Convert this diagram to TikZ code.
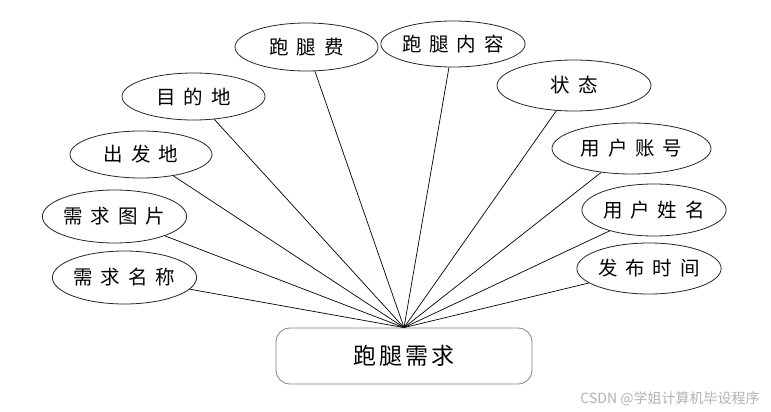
\documentclass[tikz,border=0pt]{standalone}
\usepackage{fontspec}
\setmainfont{Liberation Sans}
\newfontfamily\cjk{Noto Sans CJK SC}
\usetikzlibrary{shapes.geometric}
\newcommand\kg{\hspace{8pt}}
\begin{document}
\begin{tikzpicture}[x=1pt,y=-1pt,
  attr/.style={ellipse,draw=black!85,line width=0.8pt,inner sep=0pt,font=\cjk\fontsize{19.5}{19.5}\selectfont},
  ent/.style={rounded corners=14pt,draw=black!50,line width=0.8pt,minimum width=256pt,minimum height=56pt,inner sep=0pt,font=\cjk\fontsize{23}{23}\selectfont},
  conn/.style={line width=0.7pt,black}]
\useasboundingbox (0,0) rectangle (771,412);
\node[ent] (r) at (404,356) {跑\hspace{3pt}腿\hspace{3pt}需\hspace{3pt}求};
\node[attr,minimum width=143pt,minimum height=48pt] (a1) at (306.5,47) {跑\kg 腿\kg 费};
\node[attr,minimum width=142pt,minimum height=46pt] (a2) at (453,44) {跑\kg 腿\kg 内\kg 容};
\node[attr,minimum width=143pt,minimum height=47pt] (a3) at (193.5,96.5) {目\kg 的\kg 地};
\node[attr,minimum width=154pt,minimum height=51pt] (a4) at (574,85.5) {状\kg 态};
\node[attr,minimum width=142pt,minimum height=47pt] (a5) at (141,154.5) {出\kg 发\kg 地};
\node[attr,minimum width=159pt,minimum height=51pt] (a6) at (631.5,148.5) {用\kg 户\kg 账\kg 号};
\node[attr,minimum width=129pt,minimum height=53pt] (a7) at (114.5,216.5) {需\kg 求\kg 图\kg 片};
\node[attr,minimum width=132pt,minimum height=52pt] (a8) at (654,210) {用\kg 户\kg 姓\kg 名};
\node[attr,minimum width=127pt,minimum height=53pt] (a9) at (124.5,277.5) {需\kg 求\kg 名\kg 称};
\node[attr,minimum width=134pt,minimum height=51pt] (a10) at (649,268.5) {发\kg 布\kg 时\kg 间};
\foreach \i in {1,...,10} {\draw[conn] (a\i) -- (r.north);}
\node[text=black!30,font=\cjk\fontsize{14}{14}\selectfont,inner sep=0pt] (wm) at (670,399) {CSDN @学姐计算机毕设程序};
\end{tikzpicture}
\end{document}
